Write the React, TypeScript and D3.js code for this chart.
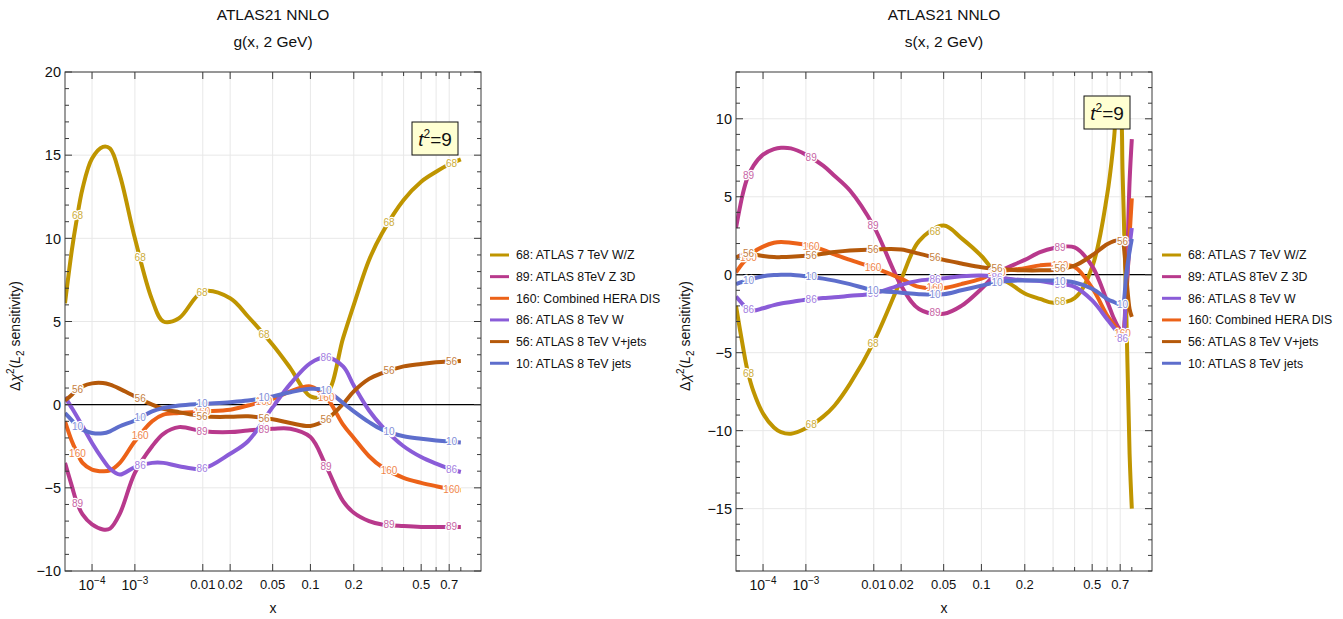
import React, { useEffect } from "react";
import * as d3 from "d3";

// ---------- data ----------
const SERIES_NAMES: Record<string, string> = {
  "68": "68: ATLAS 7 TeV W/Z",
  "89": "89: ATLAS 8TeV Z 3D",
  "160": "160: Combined HERA DIS",
  "86": "86: ATLAS 8 TeV W",
  "56": "56: ATLAS 8 TeV V+jets",
  "10": "10: ATLAS 8 TeV jets",
};
const SERIES_COLORS: Record<string, string> = {
  "68": "#BF9500",
  "89": "#B8398C",
  "160": "#EC6218",
  "86": "#8A5CD8",
  "56": "#B5590A",
  "10": "#5E6ECC",
};

const LEFT_LEGEND = ["68", "89", "160", "86", "56", "10"];
const RIGHT_LEGEND = ["68", "89", "86", "160", "56", "10"];

// g(x, 2 GeV)
const LEFT_X = [1e-5, 2e-5, 3e-5, 5e-5, 1e-4, 2e-4, 3e-4, 5e-4, 1e-3, 2e-3, 3e-3, 5e-3, 0.01, 0.02, 0.03, 0.05, 0.07, 0.1, 0.13, 0.17, 0.2, 0.25, 0.3, 0.4, 0.5, 0.6, 0.7, 0.8];
const G_68 = [6.1, 9.3, 11.0, 13.0, 14.8, 15.5, 15.4, 13.8, 10.0, 6.3, 5.0, 5.2, 6.8, 6.4, 5.3, 3.6, 2.2, 0.5, 0.6, 4.0, 6.0, 8.7, 10.3, 12.3, 13.4, 14.0, 14.45, 14.75];
const G_89 = [-3.5, -4.9, -5.8, -6.6, -7.2, -7.5, -7.45, -6.55, -4.1, -2.5, -1.75, -1.35, -1.6, -1.65, -1.55, -1.45, -1.45, -1.95, -3.7, -5.8, -6.5, -7.0, -7.2, -7.3, -7.35, -7.35, -7.35, -7.35];
const G_160 = [-1.0, -2.2, -2.8, -3.5, -3.9, -4.0, -3.95, -3.5, -2.2, -1.0, -0.6, -0.5, -0.4, -0.3, -0.05, 0.35, 0.8, 1.1, 0.45, -1.2, -2.0, -3.1, -3.75, -4.4, -4.7, -4.9, -5.05, -5.15];
const G_86 = [0.45, -0.2, -0.65, -1.3, -2.3, -3.3, -3.85, -4.2, -3.75, -3.5, -3.5, -3.7, -3.85, -2.95, -2.2, -0.15, 1.25, 2.5, 2.85, 2.3, 1.15, -0.35, -1.3, -2.5, -3.15, -3.55, -3.85, -4.05];
const G_56 = [0.25, 0.6, 0.85, 1.1, 1.28, 1.3, 1.2, 0.95, 0.5, 0.0, -0.25, -0.45, -0.7, -0.73, -0.7, -0.88, -1.1, -1.28, -0.9, 0.05, 0.8, 1.55, 1.9, 2.3, 2.45, 2.55, 2.6, 2.63];
const G_10 = [-0.5, -0.95, -1.25, -1.5, -1.7, -1.72, -1.6, -1.3, -0.95, -0.4, -0.2, -0.05, 0.05, 0.15, 0.25, 0.5, 0.75, 0.95, 0.85, 0.1, -0.4, -1.05, -1.5, -1.9, -2.05, -2.15, -2.22, -2.27];

// s(x, 2 GeV)
const RIGHT_X = [1e-5, 2e-5, 3e-5, 5e-5, 1e-4, 2e-4, 3e-4, 5e-4, 1e-3, 2e-3, 3e-3, 5e-3, 0.01, 0.02, 0.03, 0.05, 0.07, 0.1, 0.13, 0.17, 0.2, 0.25, 0.3, 0.4, 0.5, 0.6, 0.65, 0.68, 0.7, 0.72, 0.75, 0.78, 0.8];
const S_68 = [-2.0, -4.6, -6.1, -7.5, -8.9, -9.8, -10.1, -10.2, -9.85, -9.1, -8.4, -7.0, -4.3, -0.3, 2.15, 3.15, 2.35, 1.2, 0.0, -0.75, -1.2, -1.55, -1.8, -1.5, 0.5, 5.1, 8.6, 11.2, 10.9, 6.5, -2.0, -11.5, -15.0];
const S_89 = [3.0, 5.2, 6.2, 7.0, 7.7, 8.05, 8.14, 8.1, 7.7, 7.0, 6.35, 5.4, 3.1, -0.7, -2.2, -2.5, -2.0, -0.9, 0.1, 0.65, 0.95, 1.45, 1.7, 1.75, 0.55, -1.7, -2.8, -3.3, -3.55, -3.9, -0.8, 6.0, 8.7];
const S_160 = [0.15, 0.75, 1.05, 1.45, 1.8, 2.05, 2.1, 2.05, 1.92, 1.6, 1.3, 0.95, 0.45, -0.25, -0.78, -0.85, -0.6, -0.25, 0.17, 0.33, 0.42, 0.6, 0.66, 0.5, -0.85, -2.6, -3.2, -3.5, -3.7, -3.8, -1.5, 2.5, 4.9];
const S_86 = [-1.4, -1.9, -2.2, -2.3, -2.15, -1.95, -1.85, -1.75, -1.6, -1.5, -1.45, -1.35, -1.2, -0.65, -0.38, -0.22, -0.1, -0.05, -0.15, -0.3, -0.35, -0.4, -0.55, -0.78, -1.65, -2.85, -3.4, -3.7, -3.9, -4.1, -1.0, 1.8, 3.0];
const S_56 = [1.1, 1.3, 1.37, 1.3, 1.2, 1.13, 1.13, 1.15, 1.22, 1.35, 1.45, 1.55, 1.62, 1.62, 1.35, 0.95, 0.72, 0.48, 0.38, 0.3, 0.28, 0.28, 0.3, 0.58, 1.25, 1.95, 2.15, 2.2, 2.2, 2.1, 0.0, -2.2, -2.7];
const S_10 = [-0.6, -0.45, -0.4, -0.25, -0.1, -0.02, 0.0, 0.0, -0.1, -0.25, -0.38, -0.6, -1.0, -1.15, -1.25, -1.25, -1.0, -0.7, -0.47, -0.38, -0.37, -0.37, -0.37, -0.5, -0.9, -1.55, -1.75, -1.85, -1.9, -1.9, 0.0, 1.5, 2.3];

const X_MAJOR = [1e-4, 1e-3, 0.01, 0.02, 0.05, 0.1, 0.2, 0.5, 0.7];
const X_MAJOR_LABELS = ["10^-4", "10^-3", "0.01", "0.02", "0.05", "0.1", "0.2", "0.5", "0.7"];
const X_MINOR = [0.3, 0.4, 0.6, 0.8];
const X_GRID = [1e-4, 1e-3, 0.01, 0.02, 0.05, 0.1, 0.2, 0.3, 0.4, 0.5, 0.6, 0.7];
const CURVE_LABEL_X = [3.3e-5, 1.25e-3, 0.0098, 0.042, 0.13, 0.33, 0.72];

const LEFT_Y_DOMAIN = [-10, 20];
const RIGHT_Y_DOMAIN = [-19, 13];

// ---------- helpers ----------
function interpAt(xs: number[], ys: number[], x: number) {
  const u = Math.pow(x, 0.2);
  for (let i = 0; i < xs.length - 1; i++) {
    const a = Math.pow(xs[i], 0.2), b = Math.pow(xs[i + 1], 0.2);
    if (u >= a && u <= b) return ys[i] + ((u - a) / (b - a)) * (ys[i + 1] - ys[i]);
  }
  return ys[ys.length - 1];
}

const FONT = "'Liberation Sans', Arial, Helvetica, sans-serif";

type PanelProps = {
  x0: number; x1: number; y0: number; y1: number;
  xs: number[];
  series: { id: string; values: number[] }[];
  yDomain: number[];
  title2: string;
  legend: string[];
  legendX: number;
  ylabelX: number;
  box: { x: number; y: number };
  skip: string[];
  clipId: string;
};

function Panel(p: PanelProps) {
  const xScale = d3.scalePow().exponent(0.2).domain([1e-5, 1]).range([p.x0, p.x1]);
  const yScale = d3.scaleLinear().domain(p.yDomain).range([p.y1, p.y0]);
  const line = d3
    .line<number>()
    .x((_, i) => xScale(p.xs[i]))
    .y((d) => yScale(d))
    .curve(d3.curveCatmullRom.alpha(0.5));
  const yMin = p.yDomain[0], yMax = p.yDomain[1];
  const yMajor = d3.range(Math.ceil(yMin / 5) * 5, yMax + 0.001, 5);
  const yMinor = d3.range(yMin, yMax + 0.001, 1).filter((v) => v % 5 !== 0);
  const cx = (p.x0 + p.x1) / 2;
  const frame = "#3a3a3a";

  return (
    <g>
      <defs>
        <clipPath id={p.clipId}>
          <rect x={p.x0} y={p.y0} width={p.x1 - p.x0} height={p.y1 - p.y0} />
        </clipPath>
      </defs>
      {X_GRID.map((v) => (
        <line key={"gx" + v} x1={xScale(v)} x2={xScale(v)} y1={p.y0} y2={p.y1} stroke="#e8e8e8" strokeWidth={1} />
      ))}
      {yMajor.map((v) => (
        <line key={"gy" + v} x1={p.x0} x2={p.x1} y1={yScale(v)} y2={yScale(v)} stroke="#e8e8e8" strokeWidth={1} />
      ))}
      <line x1={p.x0} x2={p.x1} y1={yScale(0)} y2={yScale(0)} stroke="#000" strokeWidth={1.2} />
      <g clipPath={`url(#${p.clipId})`}>
        {p.series.map((s) => (
          <path key={s.id} d={line(s.values) || ""} fill="none" stroke={SERIES_COLORS[s.id]} strokeWidth={4} strokeLinejoin="round" />
        ))}
        {p.series.map((s) =>
          CURVE_LABEL_X.map((lx, k) => {
            if (p.skip.includes(s.id + ":" + k)) return null;
            const v = interpAt(p.xs, s.values, lx);
            const col = d3.interpolateRgb(SERIES_COLORS[s.id], "#ffffff")(0.22);
            return (
              <text
                key={s.id + "l" + k}
                x={xScale(lx)}
                y={yScale(v)}
                dy="0.35em"
                textAnchor="middle"
                fontSize={10}
                fontFamily={FONT}
                fill={col}
                stroke="#fff"
                strokeWidth={2.5}
                paintOrder="stroke"
              >
                {s.id}
              </text>
            );
          })
        )}
      </g>
      <rect x={p.x0} y={p.y0} width={p.x1 - p.x0} height={p.y1 - p.y0} fill="none" stroke={frame} strokeWidth={1} />
      {X_MAJOR.map((v) => (
        <g key={"xt" + v}>
          <line x1={xScale(v)} x2={xScale(v)} y1={p.y1} y2={p.y1 - 7} stroke={frame} />
          <line x1={xScale(v)} x2={xScale(v)} y1={p.y0} y2={p.y0 + 7} stroke={frame} />
        </g>
      ))}
      {X_MINOR.map((v) => (
        <g key={"xm" + v}>
          <line x1={xScale(v)} x2={xScale(v)} y1={p.y1} y2={p.y1 - 4} stroke={frame} />
          <line x1={xScale(v)} x2={xScale(v)} y1={p.y0} y2={p.y0 + 4} stroke={frame} />
        </g>
      ))}
      {X_MAJOR.map((v, i) => {
        const lab = X_MAJOR_LABELS[i];
        const tx = xScale(v);
        if (lab.startsWith("10^")) {
          return (
            <text key={"xl" + v} x={tx} y={p.y1 + 19} textAnchor="middle" fontSize={14} fontFamily={FONT} fill="#111">
              10
              <tspan dy={-6} fontSize={10}>{lab.slice(3).replace("-", "\u2212")}</tspan>
            </text>
          );
        }
        return (
          <text key={"xl" + v} x={tx} y={p.y1 + 18} textAnchor="middle" fontSize={13} fontFamily={FONT} fill="#111">
            {lab}
          </text>
        );
      })}
      {yMajor.map((v) => (
        <g key={"yt" + v}>
          <line x1={p.x0} x2={p.x0 + 7} y1={yScale(v)} y2={yScale(v)} stroke={frame} />
          <line x1={p.x1} x2={p.x1 - 7} y1={yScale(v)} y2={yScale(v)} stroke={frame} />
          <text x={p.x0 - 4} y={yScale(v)} dy="0.36em" textAnchor="end" fontSize={14.5} fontFamily={FONT} fill="#111">
            {v < 0 ? "\u2212" + Math.abs(v) : String(v)}
          </text>
        </g>
      ))}
      {yMinor.map((v) => (
        <g key={"ym" + v}>
          <line x1={p.x0} x2={p.x0 + 4} y1={yScale(v)} y2={yScale(v)} stroke={frame} />
          <line x1={p.x1} x2={p.x1 - 4} y1={yScale(v)} y2={yScale(v)} stroke={frame} />
        </g>
      ))}
      <text x={cx} y={20} textAnchor="middle" fontSize={15.5} fontFamily={FONT} fill="#111">ATLAS21 NNLO</text>
      <text x={cx} y={47} textAnchor="middle" fontSize={15.5} fontFamily={FONT} fill="#111">{p.title2}</text>
      <text x={cx} y={613} textAnchor="middle" fontSize={14} fontFamily={FONT} fill="#111">x</text>
      <text transform={`translate(${p.ylabelX + 5},336) rotate(-90)`} textAnchor="middle" fontSize={14} fontFamily={FONT} fill="#111">
        Δ<tspan fontStyle="italic">χ</tspan>
        <tspan dy={-6} fontSize={10}>2</tspan>
        <tspan dy={6}>(</tspan>
        <tspan fontStyle="italic">L</tspan>
        <tspan dy={4} fontSize={10}>2</tspan>
        <tspan dy={-4}> sensitivity)</tspan>
      </text>
      {p.legend.map((id, i) => {
        const ly = 255 + i * 21.65;
        return (
          <g key={"lg" + id}>
            <line x1={p.legendX} x2={p.legendX + 19} y1={ly} y2={ly} stroke={SERIES_COLORS[id]} strokeWidth={3} />
            <text x={p.legendX + 26} y={ly} dy="0.35em" fontSize={12.3} fontFamily={FONT} fill="#111">
              {SERIES_NAMES[id]}
            </text>
          </g>
        );
      })}
      <rect x={p.box.x} y={p.box.y} width={46} height={33} fill="#FFFFD2" stroke="#111" strokeWidth={1} />
      <text x={p.box.x + 23} y={p.box.y + 24} textAnchor="middle" fontSize={19} fontFamily={FONT} fill="#111">
        <tspan fontStyle="italic">t</tspan>
        <tspan dy={-8} fontSize={12}>2</tspan>
        <tspan dy={8}>=9</tspan>
      </text>
    </g>
  );
}

export default function App() {
  useEffect(() => {
    document.body.style.margin = "0";
  }, []);
  const leftSeries = [
    { id: "68", values: G_68 },
    { id: "89", values: G_89 },
    { id: "160", values: G_160 },
    { id: "86", values: G_86 },
    { id: "56", values: G_56 },
    { id: "10", values: G_10 },
  ];
  const rightSeries = [
    { id: "68", values: S_68 },
    { id: "89", values: S_89 },
    { id: "160", values: S_160 },
    { id: "86", values: S_86 },
    { id: "56", values: S_56 },
    { id: "10", values: S_10 },
  ];
  return (
    <svg width={1343} height={619} style={{ position: "absolute", left: 0, top: 0, background: "#fff" }}>
      <rect width={1343} height={619} fill="#fff" />
      <Panel
        x0={65} x1={481} y0={72} y1={571}
        xs={LEFT_X} series={leftSeries} yDomain={LEFT_Y_DOMAIN}
        title2="g(x, 2 GeV)" legend={LEFT_LEGEND} legendX={490} ylabelX={15}
        box={{ x: 412, y: 122 }} skip={["86:0", "68:4"]} clipId="clipL"
      />
      <Panel
        x0={736} x1={1152} y0={72} y1={571}
        xs={RIGHT_X} series={rightSeries} yDomain={RIGHT_Y_DOMAIN}
        title2="s(x, 2 GeV)" legend={RIGHT_LEGEND} legendX={1162} ylabelX={685}
        box={{ x: 1084, y: 96 }} skip={["68:6"]} clipId="clipR"
      />
    </svg>
  );
}
